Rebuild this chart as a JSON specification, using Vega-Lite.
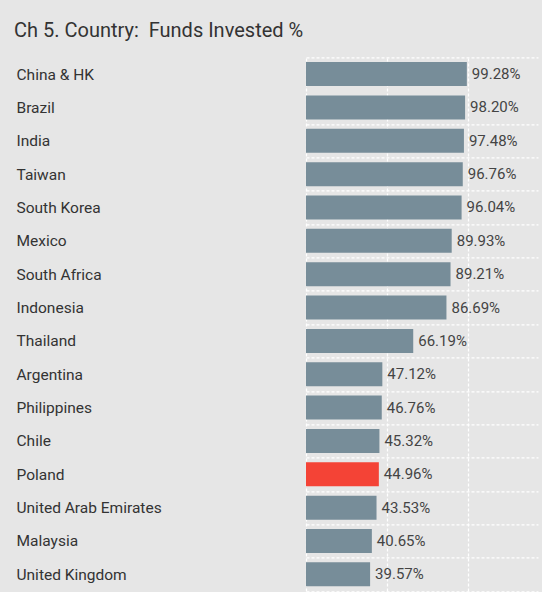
{
  "$schema": "https://vega.github.io/schema/vega-lite/v6.json",
  "width": 232,
  "height": 533.6,
  "autosize": {"type": "none"},
  "padding": {"left": 306, "top": 57.4, "right": 4, "bottom": 1},
  "background": "#e6e6e6",
  "title": {
    "text": "Ch 5. Country: \u00a0Funds Invested %",
    "anchor": "start",
    "frame": "group",
    "dx": -292,
    "dy": 27,
    "offset": 20,
    "baseline": "alphabetic",
    "font": "Roboto",
    "fontSize": 20,
    "fontWeight": "normal",
    "color": "#333333"
  },
  "data": {
    "values": [
      {"country": "China & HK", "pct": 0.9928},
      {"country": "Brazil", "pct": 0.9820},
      {"country": "India", "pct": 0.9748},
      {"country": "Taiwan", "pct": 0.9676},
      {"country": "South Korea", "pct": 0.9604},
      {"country": "Mexico", "pct": 0.8993},
      {"country": "South Africa", "pct": 0.8921},
      {"country": "Indonesia", "pct": 0.8669},
      {"country": "Thailand", "pct": 0.6619},
      {"country": "Argentina", "pct": 0.4712},
      {"country": "Philippines", "pct": 0.4676},
      {"country": "Chile", "pct": 0.4532},
      {"country": "Poland", "pct": 0.4496},
      {"country": "United Arab Emirates", "pct": 0.4353},
      {"country": "Malaysia", "pct": 0.4065},
      {"country": "United Kingdom", "pct": 0.3957}
    ]
  },
  "encoding": {
    "y": {
      "field": "country",
      "type": "nominal",
      "sort": null,
      "scale": {"paddingInner": 0, "paddingOuter": 0},
      "axis": {
        "title": null,
        "labelAlign": "left",
        "labelPadding": 290,
        "labelFont": "Roboto",
        "labelFontSize": 15.5,
        "labelColor": "#333333",
        "ticks": false,
        "domain": false,
        "grid": true,
        "tickBand": "extent",
        "gridColor": "#ffffff",
        "gridDash": [3, 2],
        "gridWidth": 1.3,
        "gridOpacity": {"condition": {"test": "datum.value === 'China & HK'", "value": 0}, "value": 1}
      }
    },
    "x": {
      "field": "pct",
      "type": "quantitative",
      "scale": {"domain": [0, 1.432], "nice": false, "zero": true},
      "axis": {
        "title": null,
        "values": [0, 0.5, 1],
        "labels": false,
        "ticks": false,
        "domain": false,
        "grid": true,
        "gridColor": "#ffffff",
        "gridDash": [3, 2],
        "gridWidth": 1.3,
        "gridOpacity": 1
      }
    }
  },
  "layer": [
    {
      "mark": {"type": "bar", "size": 24},
      "encoding": {
        "color": {
          "condition": {"test": "datum.country === 'Poland'", "value": "#f44336"},
          "value": "#778d99"
        }
      }
    },
    {
      "mark": {
        "type": "text",
        "align": "left",
        "baseline": "middle",
        "dx": 5,
        "font": "Roboto",
        "fontSize": 15,
        "color": "#444444"
      },
      "encoding": {
        "text": {"field": "pct", "type": "quantitative", "format": ".2%"}
      }
    }
  ],
  "config": {
    "view": {"stroke": null}
  }
}
